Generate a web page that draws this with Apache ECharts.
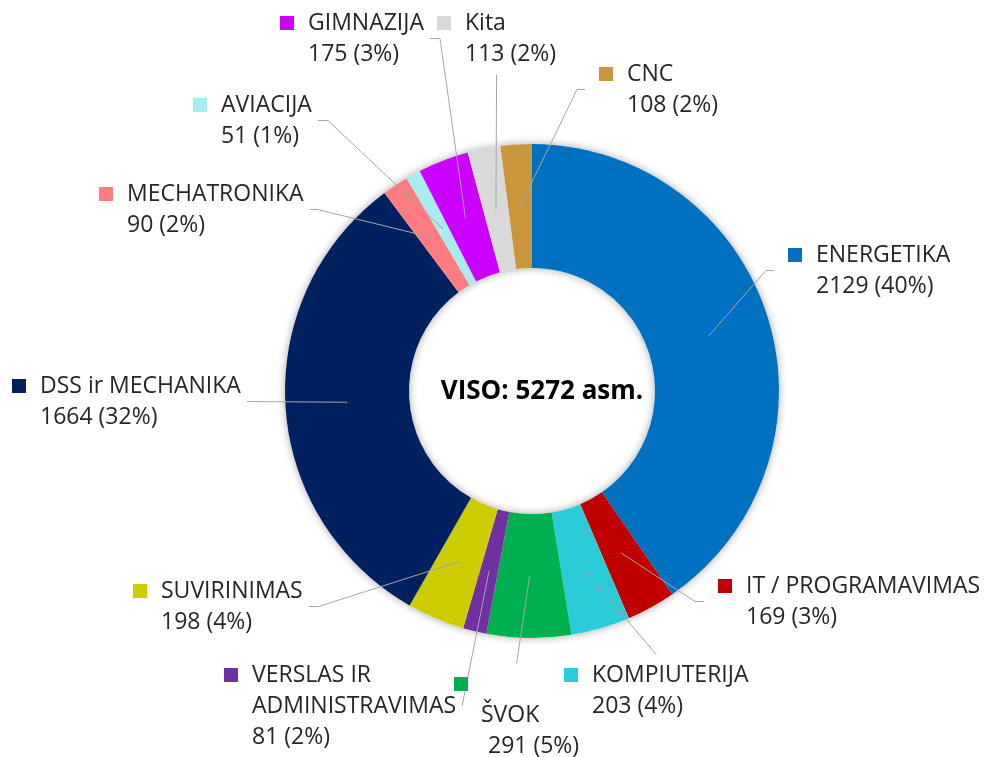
<!DOCTYPE html>
<html>
<head>
<meta charset="utf-8" />
<script src="https://cdn.jsdelivr.net/npm/echarts@6/dist/echarts.min.js"></script>
<title>Mokiniai pagal programas</title>
<style>
html, body { margin: 0; padding: 0; background: #fff; }
#main { width: 990px; height: 757px; }
</style>
</head>
<body>
<div id="main"></div>
<script type="text/javascript">
// duomenys (skaitant nuo paveikslo)
var names = ['ENERGETIKA', 'IT / PROGRAMAVIMAS', 'KOMPIUTERIJA', 'ŠVOK', 'VERSLAS IR\nADMINISTRAVIMAS',
             'SUVIRINIMAS', 'DSS ir MECHANIKA', 'MECHATRONIKA', 'AVIACIJA', 'GIMNAZIJA', 'Kita', 'CNC'];
var values = [2129, 169, 203, 291, 81, 198, 1664, 90, 51, 175, 113, 108];
var percents = [40, 3, 4, 5, 2, 4, 32, 2, 1, 3, 2, 2];
var totalText = 'VISO: 5272 asm.';

var colors = ['#0070C0', '#C00000', '#2BCCD8', '#00B050', '#7030A0', '#CCCC00',
              '#002060', '#FF7C80', '#A9ECF0', '#CC00FF', '#D9D9D9', '#C9963C'];

// etikeciu vietos: [x, kvadrato virsus, linijos puse, horizontalus galas, sukrauta]
var labelPos = [
  [788, 248, 'left', 8],
  [718, 579, 'left', 9],
  [564, 668, 'top', 0],
  [454, 677, 'top', 0, true],
  [224, 668, 'right', 0],
  [133, 584, 'right', 10],
  [12, 379, 'right', 0],
  [99, 187, 'right', 8],
  [193, 98, 'right', 10],
  [280, 16, 'right', 10],
  [437, 16, 'bottom', 0],
  [599, 67, 'left', 8]
];

var LH = 31;
var rich = {
  t: { color: '#262626', fontSize: 23, fontFamily: 'Open Sans', lineHeight: LH },
  g: { width: 14, height: 14, lineHeight: LH },
  s: { width: 28, height: 14, lineHeight: LH },
  s27: { width: 27, height: 14, lineHeight: LH },
  s34: { width: 34, height: 14, lineHeight: LH }
};
for (var k = 0; k < colors.length; k++) {
  rich['c' + k] = { width: 14, height: 14, backgroundColor: colors[k], lineHeight: LH };
}

var myChart = echarts.init(document.getElementById('main'));

var ringData = [], labelData = [];
for (var i = 0; i < names.length; i++) {
  ringData.push({ name: names[i], value: values[i], itemStyle: { color: colors[i] } });
  labelData.push({ name: names[i], value: values[i] });
}

function fmt(p) {
  var i = p.dataIndex;
  var valTxt = values[i] + ' (' + percents[i] + '%)';
  if (labelPos[i][4]) {
    return '{c' + i + '|}\n{s27|}{t|' + names[i] + '}\n{s34|}{t|' + valTxt + '}';
  }
  var lines = names[i].split('\n');
  var out = '{c' + i + '|}{g|}{t|' + lines[0] + '}';
  for (var j = 1; j < lines.length; j++) out += '\n{s|}{t|' + lines[j] + '}';
  out += '\n{s|}{t|' + valTxt + '}';
  return out;
}

var option = {
  animation: false,
  series: [
    {
      // seselis po ziedu
      type: 'pie',
      center: [532, 391],
      radius: [123, 247],
      silent: true,
      z: 1,
      label: { show: false },
      labelLine: { show: false },
      itemStyle: { color: '#ffffff', shadowBlur: 8, shadowColor: 'rgba(0,0,0,0.35)' },
      data: [{ value: 1 }]
    },
    {
      type: 'pie',
      center: [532, 391],
      radius: [123, 247],
      silent: true,
      z: 2,
      label: { show: false },
      labelLine: { show: false },
      itemStyle: { borderWidth: 0 },
      data: ringData
    },
    {
      // nematomas, tik etiketems ir linijoms
      type: 'pie',
      center: [532, 391],
      radius: [0, 185],
      silent: true,
      z: 3,
      avoidLabelOverlap: false,
      itemStyle: { color: 'rgba(0,0,0,0)' },
      label: { show: true, formatter: fmt, rich: rich, lineHeight: LH },
      labelLine: { show: true, length: 20, length2: 10, smooth: false,
                   lineStyle: { color: '#A6A6A6', width: 1 } },
      labelLayout: function (params) {
        var lp = labelPos[params.dataIndex];
        var w = params.labelRect.width, h = params.labelRect.height;
        var x = lp[0], y = lp[1] - (LH - 14) / 2;
        var a = params.labelLinePoints[0];
        var e, m;
        if (lp[2] === 'left') { e = [x - 14, y + h / 2]; m = [e[0] - lp[3], e[1]]; }
        else if (lp[2] === 'right') { e = [x + w + 6, y + h / 2]; m = [e[0] + lp[3], e[1]]; }
        else if (lp[2] === 'top') { e = [x + w / 2, y - 5]; m = e; }
        else { e = [x + w / 2, y + h + 5]; m = e; }
        return { x: x, y: y, align: 'left', verticalAlign: 'top', labelLinePoints: [a, m, e] };
      },
      data: labelData
    }
  ],
  graphic: [
    {
      type: 'text',
      x: 542, y: 392,
      z: 10,
      style: { text: totalText, fill: '#000', font: 'bold 26px "Open Sans"', align: 'center', verticalAlign: 'middle' }
    }
  ]
};
myChart.setOption(option);
</script>
</body>
</html>
